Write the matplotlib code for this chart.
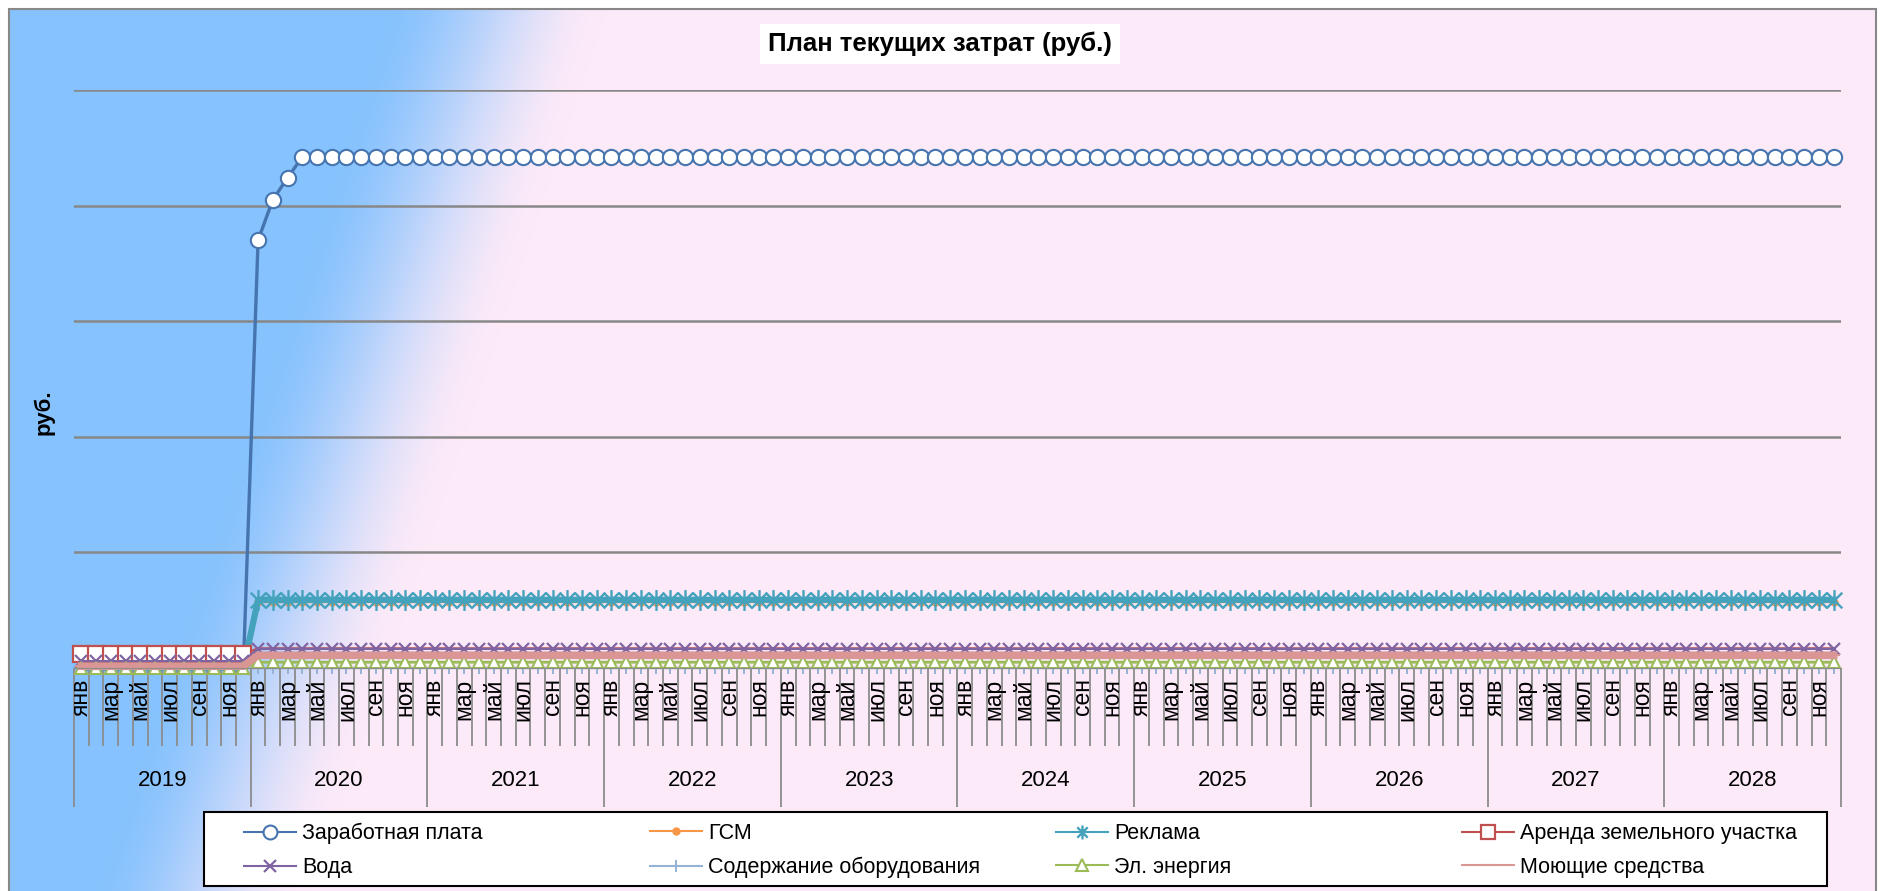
import numpy as np
import matplotlib.pyplot as plt
from matplotlib.path import Path
from matplotlib.lines import Line2D
from matplotlib.patches import Rectangle
from matplotlib.transforms import blended_transform_factory

plt.rcParams['font.family'] = ['Liberation Sans', 'DejaVu Sans']

W, H = 1880, 891

# --- data (руб. по месяцам, янв 2019 - дек 2028) ---
years = ['2019', '2020', '2021', '2022', '2023', '2024', '2025', '2026', '2027', '2028']
month_labels = ['янв', '', 'мар', '', 'май', '', 'июл', '', 'сен', '', 'ноя', '']

salary = [0] * 12 + [370000, 405000, 424000] + [442000] * 105
gsm = [0] * 12 + [57000] * 108
reklama = [0] * 12 + [59000] * 108
arenda = [12000] * 12 + [17000] * 108
voda = [6000] * 12 + [16500] * 108
soderzh = [0] * 12 + [0] * 108
energy = [0] * 12 + [5000] * 108
moyushchie = [1500] * 12 + [11000] * 108

labels = ['Заработная плата', 'ГСМ', 'Реклама', 'Аренда земельного участка',
          'Вода', 'Содержание оборудования', 'Эл. энергия', 'Моющие средства']
series = [salary, gsm, reklama, arenda, voda, soderzh, energy, moyushchie]

star = Path([(0, -1), (0, 1), (-0.75, -0.75), (0.75, 0.75), (-0.75, 0.75), (0.75, -0.75)],
            [Path.MOVETO, Path.LINETO] * 3)

styles = [
    dict(color='#4674AF', lw=2.4, marker='o', ms=11, mfc='white', mec='#4674AF', mew=1.5),
    dict(color='#F79646', lw=1.6, marker='o', ms=5, mfc='#F79646', mec='#F79646'),
    dict(color='#44A2BC', lw=4.5, marker=star, ms=15, mec='#44A2BC', mew=1.7),
    dict(color='#C0504D', lw=1.6, marker='s', ms=11, mfc='white', mec='#C0504D', mew=1.6),
    dict(color='#8064A2', lw=1.6, marker='x', ms=8, mec='#8064A2', mew=1.6),
    dict(color='#95B3D7', lw=1.6, marker='+', ms=9, mec='#95B3D7', mew=1.4),
    dict(color='#9BBB59', lw=2.0, marker='^', ms=9, mfc='white', mec='#9BBB59', mew=1.5),
    dict(color='#D99694', lw=5.5, marker='_', ms=8, mec='#D99694', mew=1.5),
]
# which points carry markers in the original
mark_from = [12, 12, 12, None, None, 12, None, None]

fig = plt.figure(figsize=(W / 100, H / 100), dpi=100)

# background: diagonal blue -> pink gradient inside the chart frame
bx0, by0, bx1 = 9, 9, 1876
bg = fig.add_axes([bx0 / W, 0, (bx1 - bx0) / W, (H - by0) / H])
bg.set_zorder(-1)
yy, xx = np.mgrid[by0:H, bx0:bx1]
cx = 498 - (498 - 200) * yy / H
t = np.clip((xx - cx) / 225 + 0.5, 0, 1)
t = t * t * (3 - 2 * t)
blue = np.array([134, 194, 254]) / 255
pink = np.array([252, 234, 248]) / 255
img = blue[None, None, :] * (1 - t[..., None]) + pink[None, None, :] * t[..., None]
bg.imshow(img, aspect='auto', interpolation='bilinear')
bg.axis('off')

ax = fig.add_axes([74 / W, 1 - 668 / H, (1841 - 74) / W, (668 - 90) / H])
ax.patch.set_alpha(0)

x = np.arange(len(salary))
for vals, st, mf in zip(series, styles, mark_from):
    me = None if mf is None else list(range(mf, len(vals)))
    if st['marker'] == 's':
        me = list(range(12))
    ax.plot(x, vals, markevery=me, solid_joinstyle='round', clip_on=False, **st)

ax.set_xlim(-0.5, len(salary) - 0.5)
ax.set_ylim(0, 500000)
ax.set_yticks(range(0, 500001, 100000))
ax.set_yticklabels([])
ax.yaxis.grid(True, color='#888888', lw=1.8)
ax.set_axisbelow(True)
ax.tick_params(axis='y', length=0)
for s in ['top', 'right', 'left']:
    ax.spines[s].set_visible(False)
ax.spines['bottom'].set_color('#8C8C8C')

ax.set_xticks(np.arange(0, 121, 12) - 0.5)
ax.set_xticks(np.arange(0, 121) - 0.5, minor=True)
ax.set_xticklabels([])
ax.tick_params(axis='x', which='major', length=100, width=1.3, color='#8C8C8C')
ax.tick_params(axis='x', which='minor', length=56, width=1.3, color='#8C8C8C')

tr = blended_transform_factory(ax.transData, ax.transAxes)
for i in range(len(salary)):
    lab = month_labels[i % 12]
    if lab:
        ax.text(i, -0.018, lab, transform=tr, rotation=90, ha='center', va='top', fontsize=16.5)
for j, yr in enumerate(years):
    ax.text(12 * j + 5.5, -0.1955, yr, transform=tr, ha='center', va='center', fontsize=16)

fig.text(940 / W, 1 - 44 / H, 'План текущих затрат (руб.)', ha='center', va='center',
         fontsize=18.5, fontweight='bold',
         bbox=dict(boxstyle='square,pad=0.3', facecolor='white', edgecolor='none'))
fig.text(44 / W, 1 - 412 / H, 'руб.', rotation=90, ha='center', va='center',
         fontsize=16, fontweight='bold')

# legend box with four equal columns
fig.add_artist(Rectangle((204 / W, 1 - 886 / H), 1623 / W, 74 / H, transform=fig.transFigure,
                         facecolor='white', edgecolor='black', lw=1.5, zorder=1))
proxies = []
for st in styles:
    p = dict(st)
    p['lw'] = 1.5
    p['ms'] = min(p['ms'], 10)
    proxies.append(Line2D([], [], **p))
for c in range(4):
    fig.legend([proxies[c], proxies[c + 4]], [labels[c], labels[c + 4]],
               loc='center left', bbox_to_anchor=((244 + 406 * c) / W, 1 - 850.5 / H),
               frameon=False, fontsize=15.5, borderpad=0, borderaxespad=0,
               handlelength=2.4, handletextpad=0.3, labelspacing=0.6)

fig.add_artist(Rectangle((bx0 / W, -0.01), (bx1 - bx0) / W, 1.01 - by0 / H,
                         transform=fig.transFigure, facecolor='none',
                         edgecolor='#888888', lw=1.5, zorder=6))

fig.savefig('out.png', dpi=100)
